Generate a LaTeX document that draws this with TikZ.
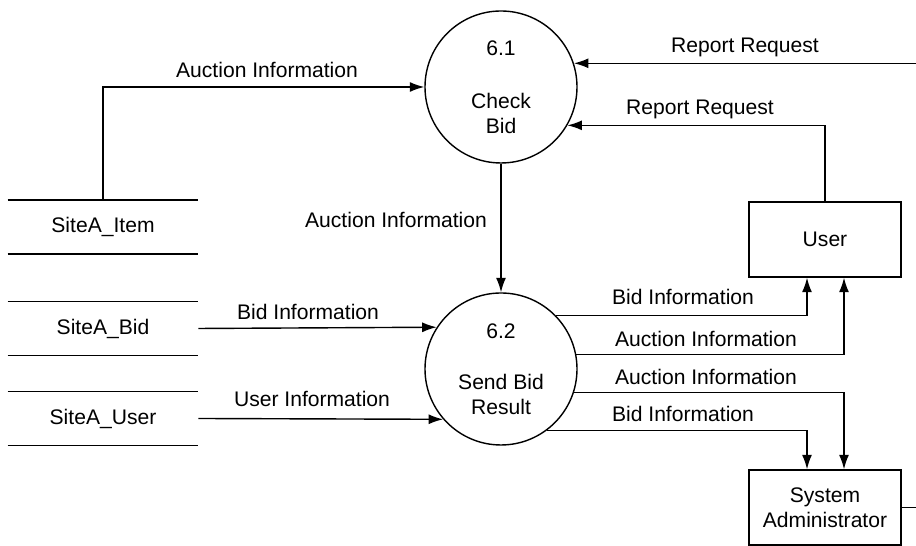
\documentclass[tikz,border=0pt]{standalone}
\usepackage{fontspec}
\setmainfont{Liberation Sans}
\usetikzlibrary{arrows.meta}
\tikzset{
	process/.style={draw, circle, line width=0.8pt, minimum size=3.04cm, inner sep=0pt, align=center},
	entity/.style={draw, rectangle, line width=0.8pt, minimum width=3.04cm, minimum height=1.5cm, align=center},
	store/.style={minimum width=3.8cm, minimum height=1.06cm, inner sep=0pt},
	flow/.style={line width=0.8pt, -{Latex[length=2.9mm,width=2mm]}},
	lbl/.style={inner sep=0pt},
}

\begin{document}
\begin{tikzpicture}[font=\fontsize{12}{14.2}\selectfont]
			%%%%% START %%%%%
			\useasboundingbox (0, 0) rectangle (18.32, 10.92);
			\coordinate (edge) at (18.32, 0);
			
			\node[process] (p61) at (10.02, 9.18) {6.1\\[16pt]Check\\Bid};
			\node[process] (p62) at (10.02, 3.54) {6.2\\[15pt]Send Bid\\Result};
			
			\node[entity] (user) at (16.5, 6.13) {User};
			\node[entity] (admin) at (16.5, 0.77) {System\\Administrator};
			
			\node[store] (item) at (2.06, 6.38) {SiteA\_Item};
			\node[store] (bid) at (2.06, 4.35) {SiteA\_Bid};
			\node[store] (usr) at (2.06, 2.55) {SiteA\_User};
			\foreach \s in {item, bid, usr}
				\draw[line width=0.8pt] (\s.north west) -- (\s.north east) (\s.south west) -- (\s.south east);
			
			\coordinate (rr) at (p61.18 -| edge);
			\draw[flow] (rr) -- (p61.18);
			\draw[flow] (user.north) |- (p61.-30);
			\draw[flow] (item.north) |- (p61);
			\draw[flow] (p61) -- (p62);
			
			\draw[flow] (bid.east) -- (p62.147.4);
			\draw[flow] (usr.east) -- (p62.221.1);
			
			\draw[flow] (p62.44) -| ([xshift=-0.36cm]user.south);
			\draw[flow] (p62.11.4) -| ([xshift=0.38cm]user.south);
			\draw[flow] (p62.-18.4) -| ([xshift=0.38cm]admin.north);
			\draw[flow] (p62.-53.4) -| ([xshift=-0.36cm]admin.north);
			\draw[line width=0.8pt] (admin.east) -- (admin.east -| edge);
			
			\node[lbl] (lrr1) at (14.9, 9.98) {Report Request};
			\node[lbl] (lrr2) at (14.0, 8.74) {Report Request};
			\node[lbl] (lauc1) at (5.34, 9.52) {Auction Information};
			\node[lbl] (lauc2) at (7.92, 6.52) {Auction Information};
			\node[lbl] (lbid1) at (6.16, 4.68) {Bid Information};
			\node[lbl] (lusr) at (6.24, 2.94) {User Information};
			\node[lbl] (lbid2) at (13.66, 4.98) {Bid Information};
			\node[lbl] (lauc3) at (14.12, 4.14) {Auction Information};
			\node[lbl] (lauc4) at (14.12, 3.38) {Auction Information};
			\node[lbl] (lbid3) at (13.66, 2.64) {Bid Information};
			
			%%%%% END %%%%%
\end{tikzpicture}
\end{document}
